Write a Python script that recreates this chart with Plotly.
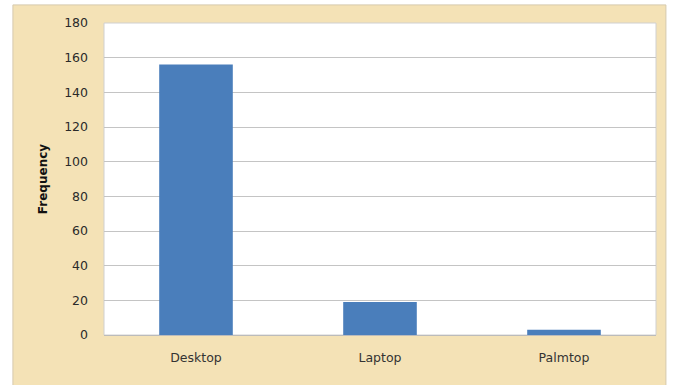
import plotly.graph_objects as go

# Device type counts
categories = ["Desktop", "Laptop", "Palmtop"]
frequency = [156, 19, 3]
y_ticks = [0, 20, 40, 60, 80, 100, 120, 140, 160, 180]

BAR_BLUE = "#4A7EBB"
PARCHMENT = "#F4E2B6"
GRID = "#C4C4C4"
FONT = "DejaVu Sans"

fig = go.Figure(
    go.Bar(
        x=categories,
        y=frequency,
        marker=dict(color=BAR_BLUE, line=dict(width=0)),
        width=0.4,
    )
)

# Parchment-coloured chart frame behind a white plot area
fig.add_shape(
    type="rect", xref="paper", yref="paper",
    x0=-0.165, x1=1.018, y0=-0.2, y1=1.058,
    fillcolor=PARCHMENT, line=dict(color="#D6CAAE", width=1), layer="below",
)
fig.add_shape(
    type="rect", xref="paper", yref="paper",
    x0=0, x1=1, y0=0, y1=1,
    fillcolor="white", line=dict(color="#D0D0D0", width=1), layer="below",
)

fig.update_layout(
    width=677, height=385,
    margin=dict(l=104, r=21, t=23, b=50),
    paper_bgcolor="white",
    plot_bgcolor="rgba(0,0,0,0)",
    showlegend=False,
    bargap=0.6,
    font=dict(family=FONT, size=12, color="#2a2a2a"),
)

fig.update_xaxes(
    showgrid=False,
    showline=True, linecolor="#BBBBBB", linewidth=1,
    ticks="", ticklabelstandoff=11,
    tickfont=dict(family=FONT, size=12.5, color="#333333"),
)

fig.update_yaxes(
    range=[0, 180],
    tickvals=y_ticks,
    showgrid=True, gridcolor=GRID, gridwidth=1,
    zeroline=False,
    showline=False,
    ticks="", ticklabelstandoff=15,
    tickfont=dict(family=FONT, size=12.5, color="#2a2a2a"),
    title=dict(text="<b>Frequency</b>", font=dict(family=FONT, size=12, color="#111111"), standoff=13),
)

fig.write_html("out.html")
